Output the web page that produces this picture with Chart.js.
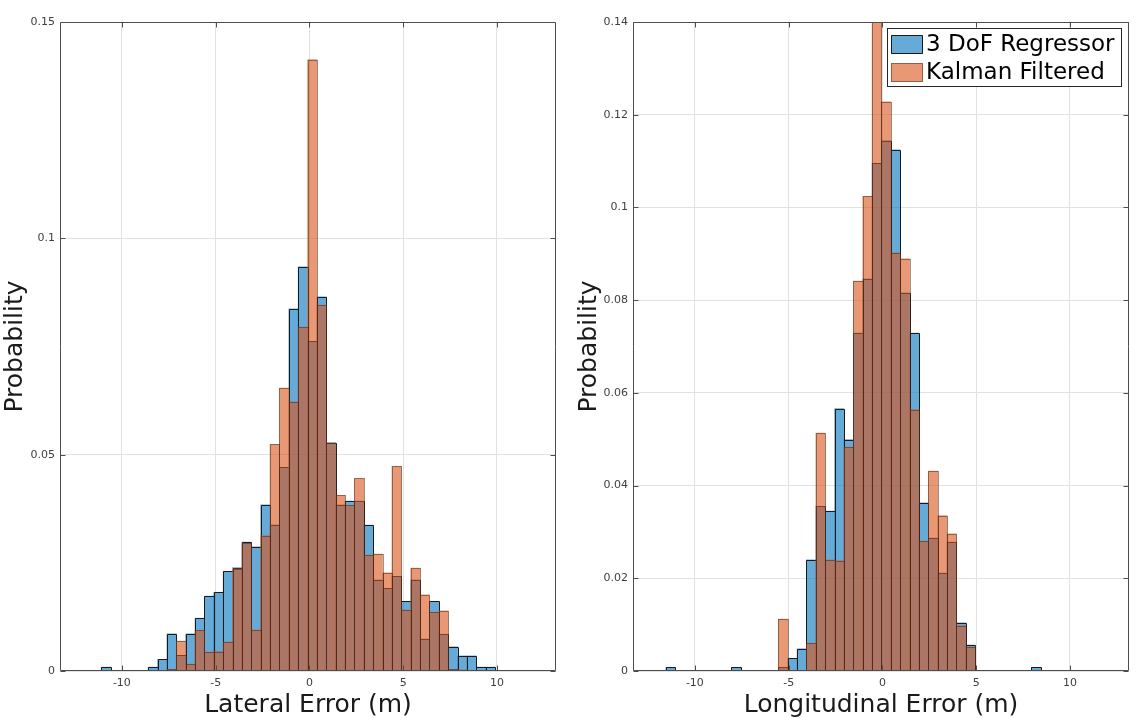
<!DOCTYPE html>
<html>
<head>
<meta charset="utf-8">
<script src="https://cdn.jsdelivr.net/npm/chart.js@4.4.1/dist/chart.umd.min.js"></script>
<style>
  html, body { margin: 0; padding: 0; background: #fff; }
  #wrap { position: relative; width: 1136px; height: 718px; }
  #wrap canvas { position: absolute; top: 0; }
  #latChart { left: 0; }
  #lonChart { left: 568px; }
</style>
</head>
<body>
<div id="wrap">
  <canvas id="latChart" width="568" height="718"></canvas>
  <canvas id="lonChart" width="568" height="718"></canvas>
</div>
<script>
// histogram bins are 0.5 m wide, values are probability per bin
const binWidth = 0.5;

const latBinStart = -11.1;
const latRegressor = [0.0009, null, null, null, null, 0.0009, 0.0027, 0.0086, 0.0036, 0.0086,
  0.0122, 0.0173, 0.0182, 0.0230, 0.0239, 0.0298, 0.0287, 0.0384, 0.0338, 0.0471,
  0.0837, 0.0934, 0.0762, 0.0865, 0.0528, 0.0384, 0.0393, 0.0393, 0.0337, 0.0211,
  0.0191, 0.0219, 0.0161, 0.0211, 0.0074, 0.0161, 0.0085, 0.0056, 0.0035, 0.0035,
  0.0009, 0.0009];
const latKalman = [null, null, null, null, null, null, null, 0.0004, 0.0069, 0.0016,
  0.0094, 0.0044, 0.0045, 0.0067, 0.0236, 0.0295, 0.0095, 0.0313, 0.0524, 0.0654,
  0.0622, 0.0795, 0.1413, 0.0846, 0.0527, 0.0406, 0.0383, 0.0445, 0.0268, 0.0270,
  0.0227, 0.0473, 0.0141, 0.0238, 0.0176, 0.0136, 0.0139, 0.0004, 0.0003, null,
  null, null];

const lonBinStart = -11.55;
const lonRegressor = [0.0008, null, null, null, null, null, null, 0.0008, null, null,
  null, null, 0.0008, 0.0027, 0.0048, 0.0240, 0.0355, 0.0345, 0.0566, 0.0499,
  0.0729, 0.0846, 0.1095, 0.1144, 0.1124, 0.0816, 0.0729, 0.0363, 0.0287, 0.0211,
  0.0278, 0.0104, 0.0056, null, null, null, null, null, null, 0.0008];
const lonKalman = [null, null, null, null, null, null, null, null, null, null,
  null, null, 0.0112, null, null, 0.0060, 0.0513, 0.0240, 0.0238, 0.0483,
  0.0841, 0.1024, 0.1420, 0.1228, 0.0902, 0.0889, 0.0564, 0.0280, 0.0431, 0.0335,
  0.0296, 0.0098, 0.0052, null, null, null, null, null, null, null];

const seriesNames = ['3 DoF Regressor', 'Kalman Filtered'];
const xTicks = [-10, -5, 0, 5, 10];
const latYTicks = [0, 0.05, 0.1, 0.15];
const latYLabels = ['0', '0.05', '0.1', '0.15'];
const lonYTicks = [0, 0.02, 0.04, 0.06, 0.08, 0.1, 0.12, 0.14];
const lonYLabels = ['0', '0.02', '0.04', '0.06', '0.08', '0.1', '0.12', '0.14'];

const blueFill = 'rgba(0,114,189,0.6)';
const orangeFill = 'rgba(217,83,25,0.6)';
const gridColor = '#e2e2e2';
const tickColor = '#404040';

Chart.defaults.font.family = '"DejaVu Sans", sans-serif';

function toPoints(start, vals) {
  return vals.map((v, i) => ({ x: start + (i + 0.5) * binWidth, y: v }));
}

function barOutline(ctx, bar) {
  const p = bar.getProps(['x', 'y', 'base', 'width'], true);
  const l = Math.round(p.x - p.width / 2) + 0.5;
  const r = Math.round(p.x + p.width / 2) + 0.5;
  const t = Math.round(p.y) + 0.5;
  const b = Math.round(p.base) + 0.5;
  ctx.moveTo(l, b);
  ctx.lineTo(l, t);
  ctx.lineTo(r, t);
  ctx.lineTo(r, b);
}

// matlab-ish edges: solid for the regressor, dotted for the kalman bars
const barEdges = {
  id: 'barEdges',
  afterDatasetDraw(chart, args) {
    const { ctx, chartArea: a } = chart;
    const ds = chart.data.datasets[args.index];
    ctx.save();
    ctx.beginPath();
    ctx.rect(a.left, a.top, a.right - a.left, a.bottom - a.top);
    ctx.clip();
    ctx.beginPath();
    args.meta.data.forEach((bar, i) => {
      if (ds.data[i].y == null) return;
      barOutline(ctx, bar);
    });
    ctx.lineWidth = 1;
    if (ds.dotted) {
      ctx.setLineDash([1, 1]);
      ctx.strokeStyle = '#3b2418';
    } else {
      ctx.strokeStyle = '#1a1a1a';
    }
    ctx.stroke();
    ctx.restore();
  }
};

// box around the axes with inward tick marks
const axesBox = {
  id: 'axesBox',
  afterDatasetsDraw(chart) {
    const { ctx, chartArea: a, scales } = chart;
    const L = Math.round(a.left) + 0.5, R = Math.round(a.right) - 0.5;
    const T = Math.round(a.top) + 0.5, B = Math.round(a.bottom) - 0.5;
    ctx.save();
    ctx.strokeStyle = '#4d4d4d';
    ctx.lineWidth = 1;
    ctx.beginPath();
    ctx.rect(L, T, R - L, B - T);
    scales.x.ticks.forEach(t => {
      const px = Math.round(scales.x.getPixelForValue(t.value)) + 0.5;
      ctx.moveTo(px, B); ctx.lineTo(px, B - 5);
      ctx.moveTo(px, T); ctx.lineTo(px, T + 5);
    });
    scales.y.ticks.forEach(t => {
      const py = Math.round(scales.y.getPixelForValue(t.value)) + 0.5;
      ctx.moveTo(L, py); ctx.lineTo(L + 5, py);
      ctx.moveTo(R, py); ctx.lineTo(R - 5, py);
    });
    ctx.stroke();
    ctx.restore();
  }
};

const insideLegend = {
  id: 'insideLegend',
  afterDraw(chart, args, opts) {
    if (!opts.show) return;
    const { ctx, chartArea: a } = chart;
    const w = 234, h = 58;
    const left = Math.round(a.right - 8 - w), top = Math.round(a.top + 6);
    ctx.save();
    ctx.fillStyle = '#fff';
    ctx.fillRect(left, top, w, h);
    ctx.strokeStyle = '#262626';
    ctx.lineWidth = 1;
    ctx.strokeRect(left + 0.5, top + 0.5, w, h);
    chart.data.datasets.forEach((ds, i) => {
      const cy = top + 16 + i * 28;
      const px = left + 4, pw = 32, ph = 19;
      const py = Math.round(cy - ph / 2);
      ctx.fillStyle = ds.backgroundColor;
      ctx.fillRect(px, py, pw, ph);
      ctx.beginPath();
      ctx.rect(px + 0.5, py + 0.5, pw - 1, ph - 1);
      if (ds.dotted) {
        ctx.setLineDash([1, 1]);
        ctx.strokeStyle = '#3b2418';
      } else {
        ctx.setLineDash([]);
        ctx.strokeStyle = '#1a1a1a';
      }
      ctx.stroke();
      ctx.setLineDash([]);
      ctx.fillStyle = '#000';
      ctx.font = '23px "DejaVu Sans"';
      ctx.textBaseline = 'middle';
      ctx.fillText(ds.label, px + pw + 3, cy + 1);
    });
    ctx.restore();
  }
};

function makeChart(id, start, blue, orange, yTicks, yLabels, yMax, xTitle, yAxisWidth, yTitlePad, padRight, showLegend) {
  return new Chart(document.getElementById(id), {
    type: 'bar',
    data: {
      datasets: [
        {
          label: seriesNames[0],
          data: toPoints(start, blue),
          backgroundColor: blueFill,
          borderWidth: 0,
          grouped: false,
          barPercentage: 1,
          categoryPercentage: 1,
          order: 1
        },
        {
          label: seriesNames[1],
          data: toPoints(start, orange),
          backgroundColor: orangeFill,
          borderWidth: 0,
          grouped: false,
          barPercentage: 1,
          categoryPercentage: 1,
          order: 0,
          dotted: true
        }
      ]
    },
    options: {
      responsive: false,
      animation: false,
      layout: { padding: { top: 22, right: padRight, left: 0, bottom: 0 } },
      plugins: {
        legend: { display: false },
        tooltip: { enabled: false },
        insideLegend: { show: showLegend }
      },
      scales: {
        x: {
          type: 'linear',
          min: -13.3,
          max: 13.15,
          offset: false,
          afterBuildTicks: s => { s.ticks = xTicks.map(v => ({ value: v })); },
          afterFit: s => { s.height = 47; },
          grid: { color: gridColor, drawTicks: false, offset: false },
          border: { display: false },
          ticks: { autoSkip: false, maxRotation: 0, padding: 6, color: tickColor, font: { size: 11 },
            callback: v => String(v) },
          title: { display: true, text: xTitle, color: '#1a1a1a',
            font: { size: 25, lineHeight: 1.0 }, padding: 0 }
        },
        y: {
          min: 0,
          max: yMax,
          afterBuildTicks: s => { s.ticks = yTicks.map(v => ({ value: v })); },
          afterFit: s => { s.width = yAxisWidth; },
          grid: { color: gridColor, drawTicks: false },
          border: { display: false },
          ticks: { padding: 5, color: tickColor, font: { size: 11 },
            callback: (v, i) => yLabels[i] },
          title: { display: true, text: 'Probability', color: '#1a1a1a',
            font: { size: 25, lineHeight: 1.2 }, padding: { top: yTitlePad, bottom: 0 } }
        }
      }
    },
    plugins: [barEdges, axesBox, insideLegend]
  });
}

makeChart('latChart', latBinStart, latRegressor, latKalman, latYTicks, latYLabels, 0.15,
  'Lateral Error (m)', 60, 0, 12, false);
makeChart('lonChart', lonBinStart, lonRegressor, lonKalman, lonYTicks, lonYLabels, 0.14,
  'Longitudinal Error (m)', 65, 6, 7, true);
</script>
</body>
</html>
